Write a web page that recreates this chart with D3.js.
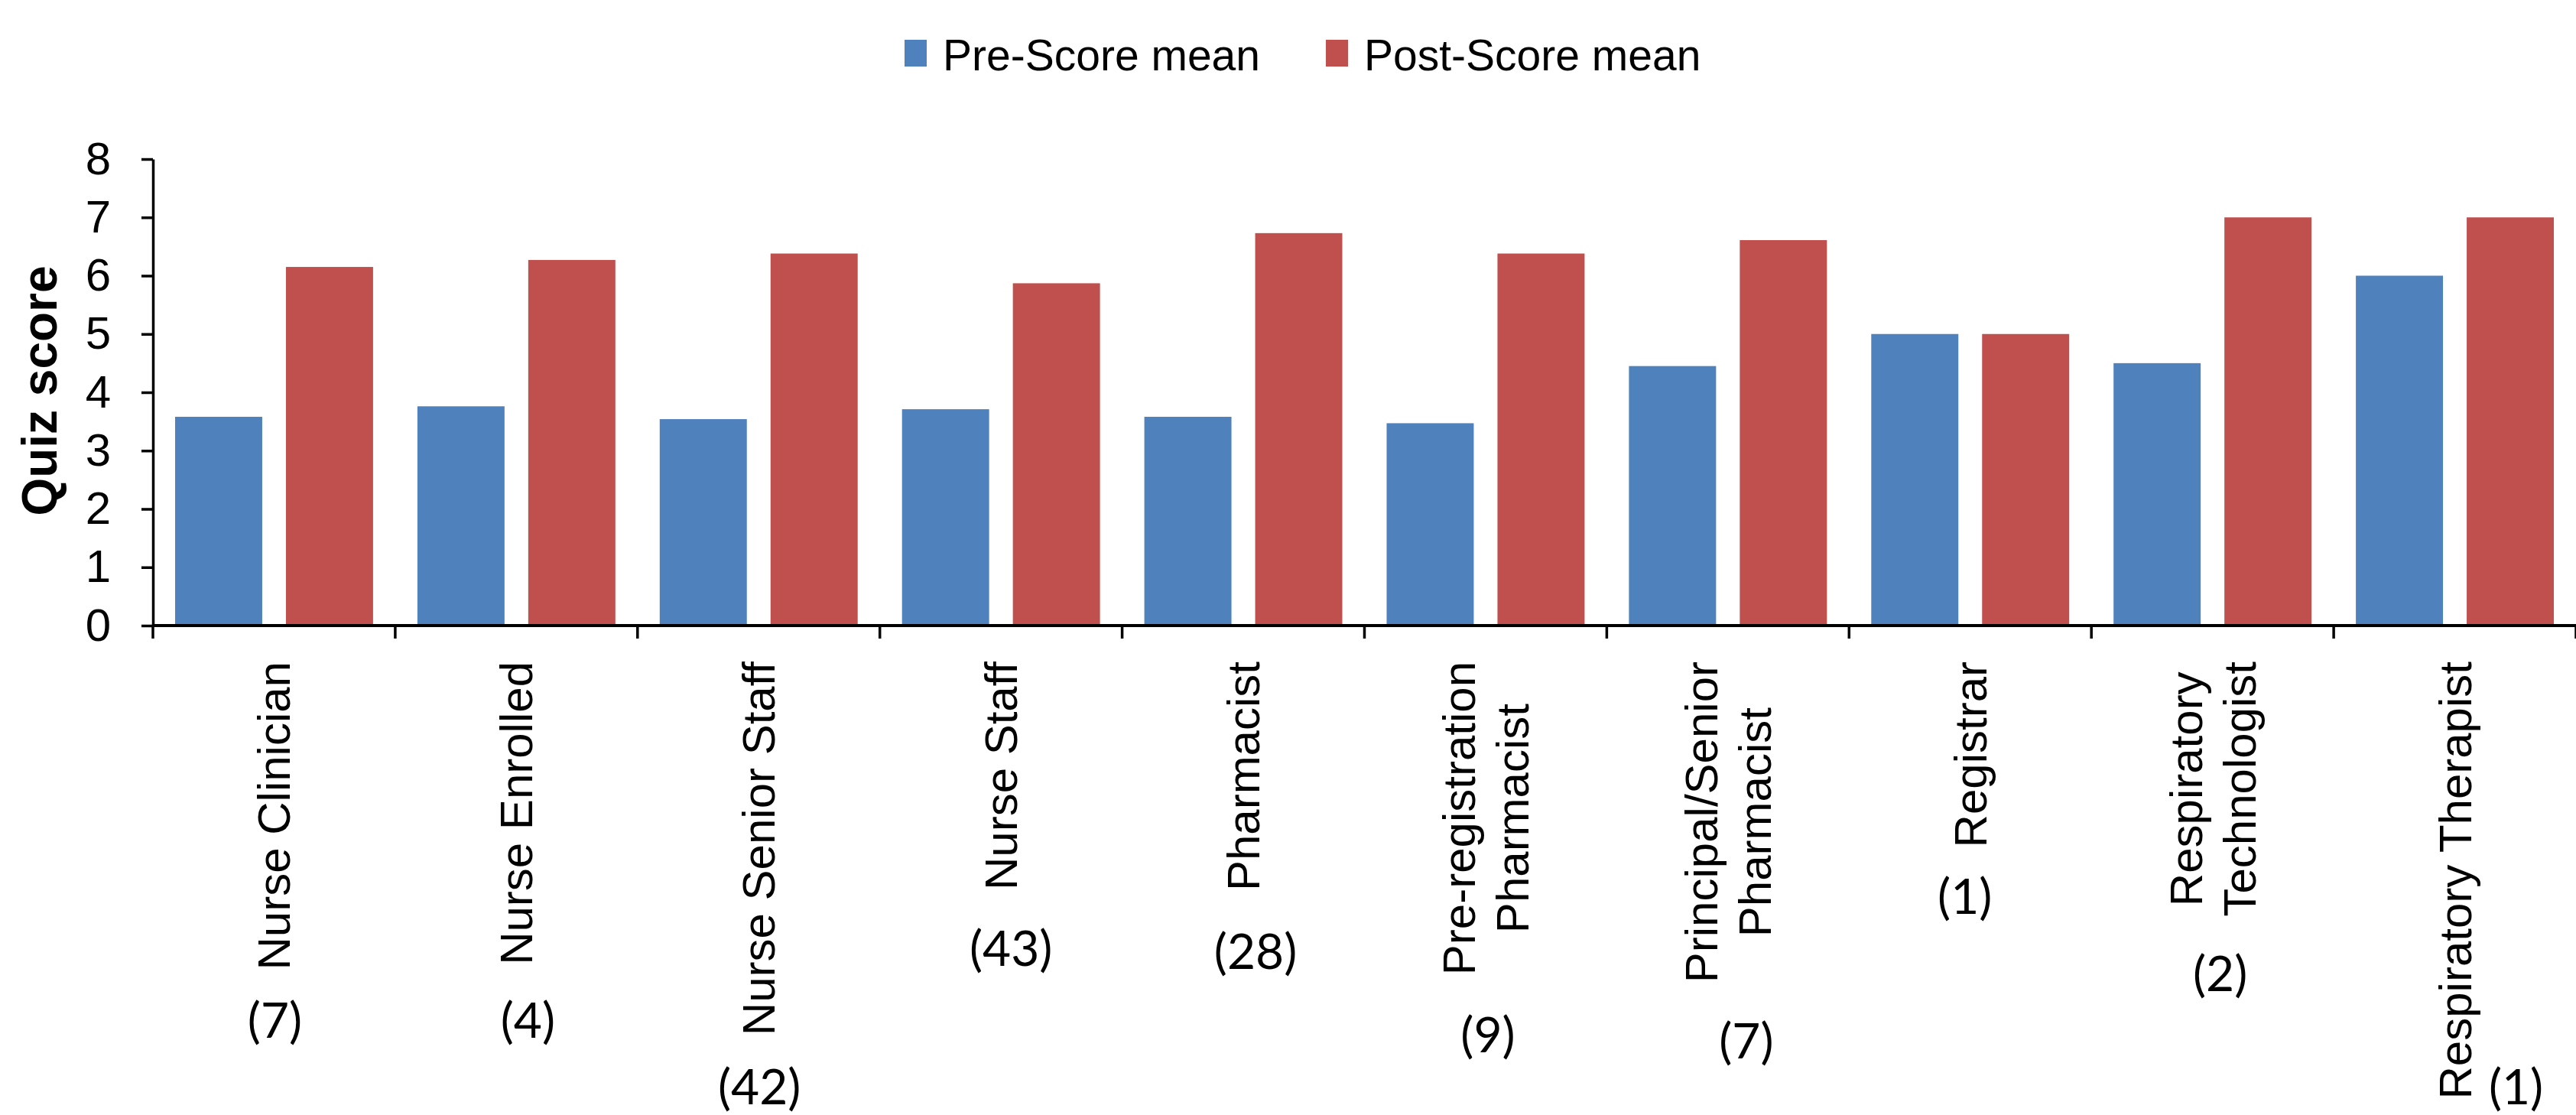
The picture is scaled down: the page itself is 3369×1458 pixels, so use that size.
<!DOCTYPE html>
<html>
<head>
<meta charset="utf-8">
<script src="https://cdn.jsdelivr.net/npm/d3@7/dist/d3.min.js"></script>
<style>
  html, body { margin: 0; padding: 0; background: #ffffff; }
  svg { display: block; }
</style>
</head>
<body>
<svg id="chart" width="3369" height="1458"></svg>
<script>
// Staff groups (line breaks marked with "\n")
const categories = [
  "Nurse Clinician",
  "Nurse Enrolled",
  "Nurse Senior Staff",
  "Nurse Staff",
  "Pharmacist",
  "Pre-registration\nPharmacist",
  "Principal/Senior\nPharmacist",
  "Registrar",
  "Respiratory\nTechnologist",
  "Respiratory Therapist"
];

// Number of participants in each group
const counts = [7, 4, 42, 43, 28, 9, 7, 1, 2, 1];

// Mean quiz scores
const seriesNames = ["Pre-Score mean", "Post-Score mean"];
const preScore  = [3.58, 3.76, 3.54, 3.71, 3.58, 3.47, 4.45, 5.0, 4.5, 6.0];
const postScore = [6.15, 6.27, 6.38, 5.87, 6.73, 6.38, 6.61, 5.0, 7.0, 7.0];

const yTicks = [0, 1, 2, 3, 4, 5, 6, 7, 8];
const yTitle = "Quiz score";

// ---- layout ----
const W = 3369, H = 1458;
const plot = { left: 200, right: 3369, top: 208, bottom: 818 };
const colors = ["#4F81BD", "#C0504D"];
const axisFont = "'Liberation Sans', Arial, sans-serif";
const countFont = "Lato, 'Open Sans', sans-serif";

// Placement of the "(n)" annotations: offset from group centre, and vertical centre
const countLayout = [
  { dx: 1,  y: 1337 }, { dx: 15, y: 1337 }, { dx: 1,  y: 1424 },
  { dx: 13, y: 1243 }, { dx: 16, y: 1247 }, { dx: 3,  y: 1356 },
  { dx: 24, y: 1364 }, { dx: -7, y: 1175 }, { dx: 10, y: 1276 },
  { dx: 80, y: 1424 }
];

const svg = d3.select("#chart");
svg.append("rect").attr("width", W).attr("height", H).attr("fill", "#ffffff");

const rows = categories.map((c, i) => ({
  cat: c,
  values: [preScore[i], postScore[i]],
  n: counts[i]
}));

const x0 = d3.scaleBand()
  .domain(categories)
  .range([plot.left, plot.right])
  .paddingInner(0.183)
  .paddingOuter(0.0915);

const x1 = d3.scaleBand()
  .domain(seriesNames)
  .range([0, x0.bandwidth()])
  .paddingInner(0.214);

const y = d3.scaleLinear().domain([0, 8]).range([plot.bottom, plot.top]);

// ---- bars ----
const groups = svg.append("g").selectAll("g")
  .data(rows)
  .join("g")
  .attr("transform", d => `translate(${x0(d.cat)},0)`);

groups.selectAll("rect")
  .data(d => d.values.map((v, k) => ({ key: seriesNames[k], v, k })))
  .join("rect")
  .attr("x", d => x1(d.key))
  .attr("y", d => y(d.v))
  .attr("width", x1.bandwidth())
  .attr("height", d => y(0) - y(d.v))
  .attr("fill", d => colors[d.k]);

// ---- y axis ----
const yAxis = d3.axisLeft(y)
  .tickValues(yTicks)
  .tickFormat(d3.format("d"))
  .tickSize(15)
  .tickSizeOuter(0)
  .tickPadding(40);

const yg = svg.append("g")
  .attr("transform", `translate(${plot.left},0)`)
  .call(yAxis);
yg.select(".domain").attr("stroke", "#000").attr("stroke-width", 3.5);
yg.selectAll(".tick line").attr("stroke", "#000").attr("stroke-width", 3.5);
yg.selectAll(".tick text")
  .attr("fill", "#000")
  .style("font-family", axisFont)
  .style("font-size", "60px");

// ---- x axis (line and ticks between groups) ----
const step = x0.step();
const boundaries = d3.range(categories.length + 1)
  .map(i => plot.left + i * step);

svg.append("line")
  .attr("x1", plot.left).attr("x2", plot.right)
  .attr("y1", plot.bottom).attr("y2", plot.bottom)
  .attr("stroke", "#000").attr("stroke-width", 4);

svg.append("g").selectAll("line")
  .data(boundaries)
  .join("line")
  .attr("x1", d => d).attr("x2", d => d)
  .attr("y1", plot.bottom).attr("y2", plot.bottom + 17)
  .attr("stroke", "#000").attr("stroke-width", 3.5);

// ---- category labels, rotated, top-aligned below the axis ----
const labelTop = 865;
const lineGap = 70;
const labels = svg.append("g")
  .style("font-family", axisFont)
  .style("font-size", "60px")
  .attr("fill", "#000");

rows.forEach(d => {
  const lines = d.cat.split("\n");
  const cx = x0(d.cat) + x0.bandwidth() / 2;
  const g = labels.append("g")
    .attr("transform", `translate(${cx},${labelTop}) rotate(-90)`);
  const texts = lines.map((ln, i) =>
    g.append("text")
      .attr("text-anchor", "middle")
      .attr("y", (i - (lines.length - 1) / 2) * lineGap)
      .attr("dy", "0.35em")
      .text(ln)
  );
  const maxLen = d3.max(texts, t => t.node().getComputedTextLength());
  texts.forEach(t => t.attr("x", -maxLen / 2));
});

// ---- participant counts ----
svg.append("g")
  .style("font-family", countFont)
  .style("font-size", "64px")
  .attr("fill", "#000")
  .selectAll("text")
  .data(rows)
  .join("text")
  .attr("text-anchor", "middle")
  .attr("x", (d, i) => x0(d.cat) + x0.bandwidth() / 2 + countLayout[i].dx)
  .attr("y", (d, i) => countLayout[i].y)
  .attr("dy", "0.31em")
  .text(d => `(${d.n})`);

// ---- y axis title ----
svg.append("text")
  .attr("transform", `translate(52,511) rotate(-90)`)
  .attr("text-anchor", "middle")
  .attr("dy", "0.35em")
  .style("font-family", axisFont)
  .style("font-size", "64px")
  .style("font-weight", "bold")
  .attr("fill", "#000")
  .text(yTitle);

// ---- legend ----
const legend = svg.append("g").style("font-family", axisFont).style("font-size", "57px");
let lx = 1183;
seriesNames.forEach((name, k) => {
  legend.append("rect")
    .attr("x", lx).attr("y", 52)
    .attr("width", 29).attr("height", 35)
    .attr("fill", colors[k]);
  const t = legend.append("text")
    .attr("x", lx + 50).attr("y", 92)
    .attr("fill", "#000")
    .text(name);
  lx += 50 + t.node().getComputedTextLength() + 86;
});
</script>
</body>
</html>
